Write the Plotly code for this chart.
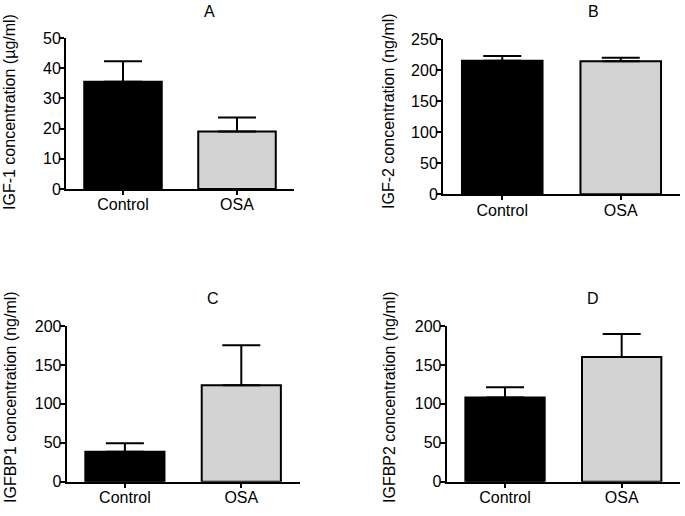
import plotly.graph_objects as go

categories = ["Control", "OSA"]

igf1_means = [35.5, 19.0]
igf1_errs = [6.8, 4.7]

igf2_means = [214.8, 214.3]
igf2_errs = [8.0, 5.7]

igfbp1_means = [38.6, 123.9]
igfbp1_errs = [10.7, 51.4]

igfbp2_means = [108.0, 160.3]
igfbp2_errs = [13.3, 29.5]

panel_titles = ["A", "B", "C", "D"]
y_titles = ["IGF-1 concentration (µg/ml)", "IGF-2 concentration (ng/ml)",
            "IGFBP1 concentration (ng/ml)", "IGFBP2 concentration (ng/ml)"]
y_ranges = [[0, 50], [0, 250], [0, 200], [0, 200]]
y_dticks = [10, 50, 50, 50]

bar_colors = ["#000000", "#D3D3D3"]

W, H = 685, 516
FONT = "Liberation Sans, Arial, sans-serif"

# pixel boxes (left, right, top, bottom)
boxes = [
    (66, 294, 38, 189),
    (443, 680, 39, 194.3),
    (66.7, 299.5, 326, 481.7),
    (446.7, 680, 326, 481.7),
]
title_pos = [(209, 11), (593, 11), (213, 298), (593, 298)]
ytitle_pos = [(10, 112), (389, 111), (10, 397), (389, 397)]

fig = go.Figure()
data = [(igf1_means, igf1_errs), (igf2_means, igf2_errs),
        (igfbp1_means, igfbp1_errs), (igfbp2_means, igfbp2_errs)]

annotations = []
for i, (means, errs) in enumerate(data):
    n = i + 1
    xa = "x" if n == 1 else f"x{n}"
    ya = "y" if n == 1 else f"y{n}"
    fig.add_trace(go.Bar(
        x=categories, y=means, width=0.68,
        marker=dict(color=bar_colors, line=dict(color="black", width=2)),
        error_y=dict(type="data", array=errs, arrayminus=[0, 0], symmetric=False,
                     color="black", thickness=2, width=19),
        xaxis=xa, yaxis=ya, showlegend=False, hoverinfo="skip",
    ))
    l, r, t, b = boxes[i]
    xkey = "xaxis" if n == 1 else f"xaxis{n}"
    ykey = "yaxis" if n == 1 else f"yaxis{n}"
    fig.update_layout(**{
        xkey: dict(domain=[l / W, r / W], anchor=ya, showline=True, linecolor="black",
                   linewidth=2, ticks="outside", ticklen=4, tickwidth=2, tickcolor="black",
                   showgrid=False, zeroline=False, range=[-0.5, 1.5], automargin=False,
                   ticklabelstandoff=-4, fixedrange=True,
                   tickfont=dict(family=FONT, size=16, color="black")),
        ykey: dict(domain=[1 - b / H, 1 - t / H], anchor=xa, range=y_ranges[i],
                   dtick=y_dticks[i], showline=True, linecolor="black", linewidth=2,
                   ticks="outside", ticklen=5, tickwidth=2, tickcolor="black",
                   showgrid=False, zeroline=False, automargin=False,
                   ticklabelstandoff=-5, fixedrange=True,
                   tickfont=dict(family=FONT, size=16, color="black")),
    })
    tx, ty = title_pos[i]
    annotations.append(dict(text=panel_titles[i], x=tx / W, y=1 - ty / H, xref="paper",
                            yref="paper", showarrow=False, xanchor="center", yanchor="middle",
                            font=dict(family=FONT, size=16, color="black")))
    yx, yy = ytitle_pos[i]
    annotations.append(dict(text=y_titles[i], x=yx / W, y=1 - yy / H, xref="paper",
                            yref="paper", showarrow=False, xanchor="center", yanchor="middle",
                            textangle=-90, font=dict(family=FONT, size=16, color="black")))

fig.update_layout(width=W, height=H, margin=dict(l=0, r=0, t=0, b=0, autoexpand=False),
                  plot_bgcolor="white", paper_bgcolor="white", annotations=annotations,
                  showlegend=False)

fig.write_html("out.html", config={"displayModeBar": False},
               post_script="document.body.style.margin='0px';document.body.style.overflow='hidden';")
